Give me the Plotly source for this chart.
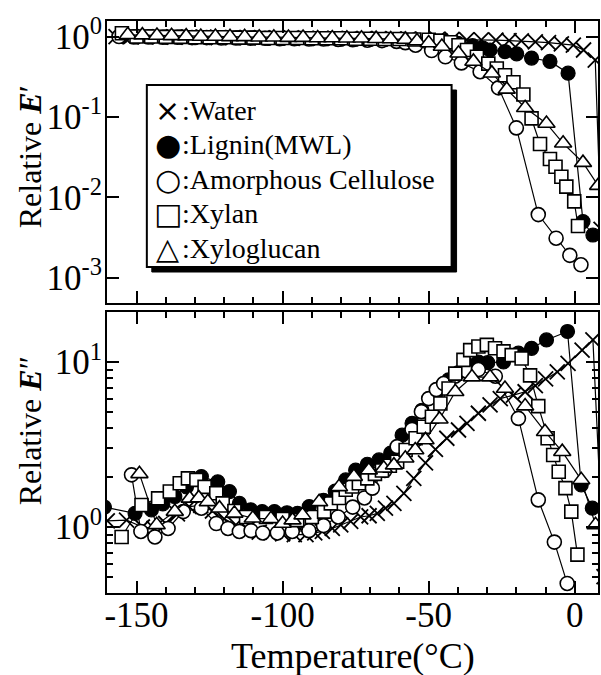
import plotly.graph_objects as go

# ---------------- data: top panel, relative E' ----------------
water_T1 = [-157, -152, -147, -142, -137, -132, -127, -122, -117, -112, -107, -102, -97, -92, -87, -82,
            -77, -72, -67, -62, -57, -52, -47, -42, -37, -32, -27, -22.5, -18.3, -13.5, -9, -4.6, -0.5, 3, 7, 9]
water_E1 = [1.0, 1.0, 0.99, 0.99, 0.98, 0.98, 0.98, 0.97, 0.97, 0.97, 0.96, 0.96, 0.96, 0.95, 0.95, 0.95,
            0.94, 0.94, 0.94, 0.93, 0.93, 0.93, 0.92, 0.92, 0.91, 0.91, 0.90, 0.89, 0.88, 0.86, 0.84, 0.81,
            0.78, 0.68, 0.51, 0.004]

lignin_T1 = [-155, -150, -145, -140, -135, -130, -125, -120, -115, -110, -105, -100, -95, -90, -85, -80,
             -75, -70, -65, -60, -55, -50, -45, -40, -35, -31.5, -29, -23.9, -19.9, -14.8, -8.5, -2.3, 2.8, 6.2]
lignin_E1 = [1.0, 0.99, 0.99, 0.98, 0.98, 0.97, 0.97, 0.97, 0.96, 0.96, 0.95, 0.95, 0.95, 0.94, 0.94, 0.93,
             0.93, 0.92, 0.92, 0.91, 0.90, 0.88, 0.86, 0.82, 0.77, 0.72, 0.68, 0.65, 0.61, 0.54, 0.49, 0.35,
             0.005, 0.0034]

amorph_T1 = [-156, -151, -146, -141, -136, -131, -126, -121, -116, -111, -106, -101, -96, -91, -86, -81,
             -76, -71, -66, -61, -58, -54.5, -49, -44.3, -38.8, -32.4, -26.1, -20, -12.5, -6.4, -1.7, 2.1]
amorph_E1 = [1.0, 0.99, 0.99, 0.98, 0.98, 0.97, 0.97, 0.96, 0.96, 0.95, 0.95, 0.94, 0.94, 0.93, 0.93, 0.92,
             0.91, 0.90, 0.89, 0.87, 0.84, 0.78, 0.67, 0.56, 0.47, 0.365, 0.23, 0.073, 0.0061, 0.0031,
             0.0019, 0.00145]

xylan_T1 = [-155, -150, -145, -140, -135, -130, -125, -120, -115, -110, -105, -100, -95, -90, -85, -80,
            -75, -70, -65, -60, -55, -50, -46, -42.5, -39.8, -36.9, -33.5, -29.6, -26.7, -23.9, -21, -17.6,
            -14.8, -11.9, -8.5, -6.6, -4.6, -2.9, -0.2, 1.1]
xylan_E1 = [1.1, 1.0, 1.0, 0.99, 0.99, 0.98, 0.98, 0.98, 0.97, 0.97, 0.96, 0.96, 0.96, 0.95, 0.95, 0.95,
            0.94, 0.94, 0.93, 0.93, 0.92, 0.91, 0.89, 0.85, 0.78, 0.68, 0.56, 0.46, 0.40, 0.33, 0.27, 0.19,
            0.096, 0.046, 0.030, 0.024, 0.018, 0.0136, 0.0089, 0.0044]

xylog_T1 = [-153, -148, -143, -138, -133, -128, -123, -118, -113, -108, -103, -98, -93, -88, -83, -78,
            -73, -68, -63, -58, -54, -50, -45.5, -39.8, -34.7, -28.4, -23.3, -17, -9.7, -4, 2.8, 8]
xylog_E1 = [1.05, 1.04, 1.03, 1.02, 1.01, 1.0, 1.0, 0.99, 0.99, 0.98, 0.98, 0.97, 0.97, 0.96, 0.96, 0.95,
            0.95, 0.94, 0.93, 0.92, 0.88, 0.83, 0.75, 0.62, 0.49, 0.35, 0.22, 0.13, 0.083, 0.047, 0.027, 0.014]

# ---------------- data: bottom panel, relative E'' ----------------
water_T2 = [-160, -153.4, -148, -144, -140, -136, -132, -128, -124, -120, -116, -112, -108, -104, -100, -96,
            -92, -89, -86.4, -83, -80.1, -76.7, -73.3, -70.4, -67.6, -64.8, -61.9, -58.5, -55.1, -51.1, -47.7,
            -43.8, -39.8, -36.9, -33, -29, -25.5, -21, -17, -13.5, -10, -6, -2.3, 2.5, 6.2, 10]
water_E2 = [1.09, 1.1, 1.0, 0.98, 1.05, 1.2, 1.33, 1.35, 1.25, 1.12, 1.03, 0.97, 0.93, 0.92, 0.91, 0.9,
            0.9, 0.92, 0.94, 0.98, 1.03, 1.08, 1.15, 1.17, 1.21, 1.3, 1.39, 1.6, 1.97, 2.45, 2.95,
            3.45, 3.87, 4.25, 4.89, 5.49, 6.0, 6.3, 6.6, 7.2, 7.9, 8.7, 9.8, 11.8, 13.6, 0.5]

lignin_T2 = [-161, -150.5, -144.9, -141, -136.9, -132.9, -127.8, -122.2, -118.2, -114.8, -110.9, -107, -102.8,
             -98.5, -94.9, -90.9, -86, -82, -78.4, -75, -71, -67, -63, -59.1, -55.7, -52.3, -47.2, -43.2, -40,
             -36.6, -33, -29.8, -24.4, -19.3, -14.8, -9.7, -2.5, 2.2, 6.0]
lignin_E2 = [1.32, 1.21, 1.27, 1.38, 1.53, 1.75, 2.02, 1.88, 1.64, 1.39, 1.27, 1.24, 1.24,
             1.22, 1.21, 1.33, 1.45, 1.65, 1.93, 2.21, 2.4, 2.55, 2.8, 3.6, 4.25, 5.1, 6.6, 7.8, 8.6,
             9.6, 10.0, 9.9, 10.0, 11.3, 12.1, 13.6, 15.3, 1.8, 1.3]

amorph_T2 = [-151.7, -148.5, -143.7, -139.2, -134, -127.8, -122.7, -118.7, -114.8, -110.8, -106.8, -101.8,
             -96.7, -91, -86, -81, -76, -72, -69.3, -65, -60.8, -55.7, -52.5, -50, -47.4, -44.9, -41, -37,
             -33, -27.2, -19.3, -12.5, -7, -2.6]
amorph_E2 = [2.07, 0.94, 0.87, 0.98, 1.24, 1.3, 1.05, 0.98, 0.94, 0.95, 0.92, 0.92,
             0.94, 0.95, 1.02, 1.15, 1.32, 1.5, 1.72, 2.2, 3.07, 3.9, 5.0, 6.0, 6.8, 7.4, 8.2, 8.8,
             9.0, 8.2, 4.55, 1.46, 0.81, 0.455]

xylan_T2 = [-155.1, -148.3, -142.6, -138.6, -135.2, -132.4, -129.5, -126.7, -122.7, -120.5, -116.5, -112.5,
            -105.7, -100, -95, -90, -85.8, -83.5, -80.7, -78.4, -76.2, -73.9, -71, -68.4, -66, -63.3, -60.8,
            -57.9, -54.5, -51.7, -48.9, -46, -43.2, -40.9, -38.1, -35.8, -33, -30.1, -27.3, -24.4, -21.6,
            -18.2, -15.3, -12.5, -9.3, -7.4, -5.5, -3.2, -1.2, 0.9]
xylan_E2 = [0.87, 1.36, 1.49, 1.64, 1.84, 1.97, 1.93, 1.75, 1.6, 1.39, 1.25, 1.15,
            1.15, 1.12, 1.1, 1.15, 1.24, 1.39, 1.5, 1.68, 1.76, 1.84, 1.97, 2.1, 2.2, 2.35, 2.49,
            2.93, 3.45, 4.05, 4.66, 5.6, 6.9, 8.5, 10.3, 11.8, 12.4, 12.7, 12.1, 11.6, 11.0,
            10.5, 8.3, 5.4, 3.45, 2.73, 2.16, 1.72, 1.24, 0.68]

xylog_T2 = [-149, -143.1, -136.9, -131.8, -128.7, -125.6, -121.6, -116.5, -110.2, -104, -100, -96.6, -93.2,
            -87.5, -80.7, -75.6, -70.5, -65.4, -61.9, -58, -54.6, -51.1, -46.3, -40.9, -35.2, -29, -23.9,
            -17, -10.2, -4.3, 2.2, 7.1]
xylog_E2 = [2.1, 1.03, 1.24, 1.49, 1.5, 1.42, 1.3, 1.21, 1.13, 1.12, 1.05, 1.1, 1.18,
            1.42, 1.75, 2.02, 2.21, 2.27, 2.37, 2.61, 2.93, 3.37, 4.5, 6.6, 8.1, 8.1, 6.9,
            5.4, 3.78, 2.86, 1.93, 1.03]

# ---------------- labels ----------------
legend_symbols = ["×", "●", "○", "□", "△"]
legend_names = [":Water", ":Lignin(MWL)", ":Amorphous Cellulose", ":Xylan", ":Xyloglucan"]
x_tick_vals = [-150, -100, -50, 0]
x_tick_text = ["-150", "-100", "-50", "0"]
y1_tick_vals = [0.001, 0.01, 0.1, 1]
y1_tick_text = ["10<sup>-3</sup>", "10<sup>-2</sup>", "10<sup>-1</sup>", "10<sup>0</sup>"]
y2_tick_vals = [1, 10]
y2_tick_text = ["10<sup>0</sup>", "10<sup>1</sup>"]
y2_minor_vals = [0.4, 0.5, 0.6, 0.7, 0.8, 0.9, 2, 3, 4, 5, 6, 7, 8, 9, 20]

SERIF = "Liberation Serif, Times New Roman, serif"

styles = {
    "water": dict(symbol="x-thin-open", size=15, color="black", line=dict(color="black", width=1.8)),
    "lignin": dict(symbol="circle", size=14, color="black", line=dict(color="black", width=1.2)),
    "amorph": dict(symbol="circle", size=14, color="white", line=dict(color="black", width=1.6)),
    "xylan": dict(symbol="square", size=13, color="white", line=dict(color="black", width=1.6)),
    "xylog": dict(symbol="triangle-up", size=15, color="white", line=dict(color="black", width=1.6)),
}

series = [
    ("water", water_T1, water_E1, water_T2, water_E2),
    ("lignin", lignin_T1, lignin_E1, lignin_T2, lignin_E2),
    ("amorph", amorph_T1, amorph_E1, amorph_T2, amorph_E2),
    ("xylan", xylan_T1, xylan_E1, xylan_T2, xylan_E2),
    ("xylog", xylog_T1, xylog_E1, xylog_T2, xylog_E2),
]

fig = go.Figure()
for key, t1, e1, t2, e2 in series:
    for t, e, xa, ya in ((t1, e1, "x", "y"), (t2, e2, "x2", "y2")):
        fig.add_trace(go.Scatter(
            x=t, y=e, mode="lines+markers", xaxis=xa, yaxis=ya, showlegend=False,
            line=dict(color="black", width=1.2), marker=styles[key],
        ))

axis_common = dict(showline=True, linecolor="black", linewidth=2, mirror="allticks",
                   ticks="inside", tickcolor="black", tickwidth=1.5, showgrid=False, zeroline=False,
                   tickfont=dict(family=SERIF, size=35, color="black"))

x_common = dict(axis_common, range=[-160.1, 7.94], tickvals=x_tick_vals, ticktext=x_tick_text, ticklen=12,
                minor=dict(dtick=10, tick0=0, ticks="inside", ticklen=6, tickwidth=1.5, tickcolor="black"))

fig.update_layout(
    width=601, height=675,
    margin=dict(l=107, r=1, t=21, b=82),
    paper_bgcolor="white", plot_bgcolor="white",
    xaxis=dict(x_common, domain=[0, 1], anchor="y", showticklabels=False),
    xaxis2=dict(x_common, domain=[0, 1], anchor="y2", showticklabels=True, ticklabelstandoff=-10),
    yaxis=dict(axis_common, domain=[0.507, 1], anchor="x", type="log", range=[-3.314, 0.193],
               tickvals=y1_tick_vals, ticktext=y1_tick_text, ticklen=12, ticklabelstandoff=-4),
    yaxis2=dict(axis_common, domain=[0, 0.4913], anchor="x2", type="log", range=[-0.40, 1.303],
                tickvals=y2_tick_vals, ticktext=y2_tick_text, ticklen=12, ticklabelstandoff=-4,
                minor=dict(tickvals=y2_minor_vals, ticks="inside", ticklen=6, tickwidth=1.5, tickcolor="black")),
)

# ---- pixel helpers for layout (paper coordinates) ----
L, R, T, B = 107, 600, 21, 593
def px(x):
    return (x - L) / (R - L)
def py(y):
    return (B - y) / (B - T)

# axis titles
fig.add_annotation(text="Temperature(°C)", xref="paper", yref="paper", x=0.5, y=py(656),
                   xanchor="center", yanchor="middle", showarrow=False,
                   font=dict(family=SERIF, size=36, color="black"))
fig.add_annotation(text="Relative <b><i>E</i></b>′", xref="paper", yref="paper", x=px(30), y=py(157),
                   xanchor="center", yanchor="middle", textangle=-90, showarrow=False,
                   font=dict(family=SERIF, size=32, color="black"))
fig.add_annotation(text="Relative <b><i>E</i></b>″", xref="paper", yref="paper", x=px(30), y=py(431),
                   xanchor="center", yanchor="middle", textangle=-90, showarrow=False,
                   font=dict(family=SERIF, size=32, color="black"))

# legend box with drop shadow
fig.add_shape(type="rect", xref="paper", yref="paper", x0=px(152), x1=px(458), y0=py(272), y1=py(90),
              fillcolor="black", line=dict(color="black", width=1), layer="above")
fig.add_shape(type="rect", xref="paper", yref="paper", x0=px(147), x1=px(453), y0=py(267), y1=py(85),
              fillcolor="white", line=dict(color="black", width=2), layer="above")

sym_sizes = [30, 30, 30, 30, 30]
for i, (sym, name) in enumerate(zip(legend_symbols, legend_names)):
    yc = 110 + 34.5 * i
    fig.add_annotation(text=sym, xref="paper", yref="paper", x=px(168), y=py(yc),
                       xanchor="center", yanchor="middle", showarrow=False, borderpad=0,
                       font=dict(family="DejaVu Sans", size=sym_sizes[i], color="black"))
    fig.add_annotation(text=name, xref="paper", yref="paper", x=px(180), y=py(yc),
                       xanchor="left", yanchor="middle", showarrow=False,
                       font=dict(family=SERIF, size=28, color="black"))

fig.write_html("out.html", config={"displayModeBar": False},
               post_script="document.body.style.margin='0';")
